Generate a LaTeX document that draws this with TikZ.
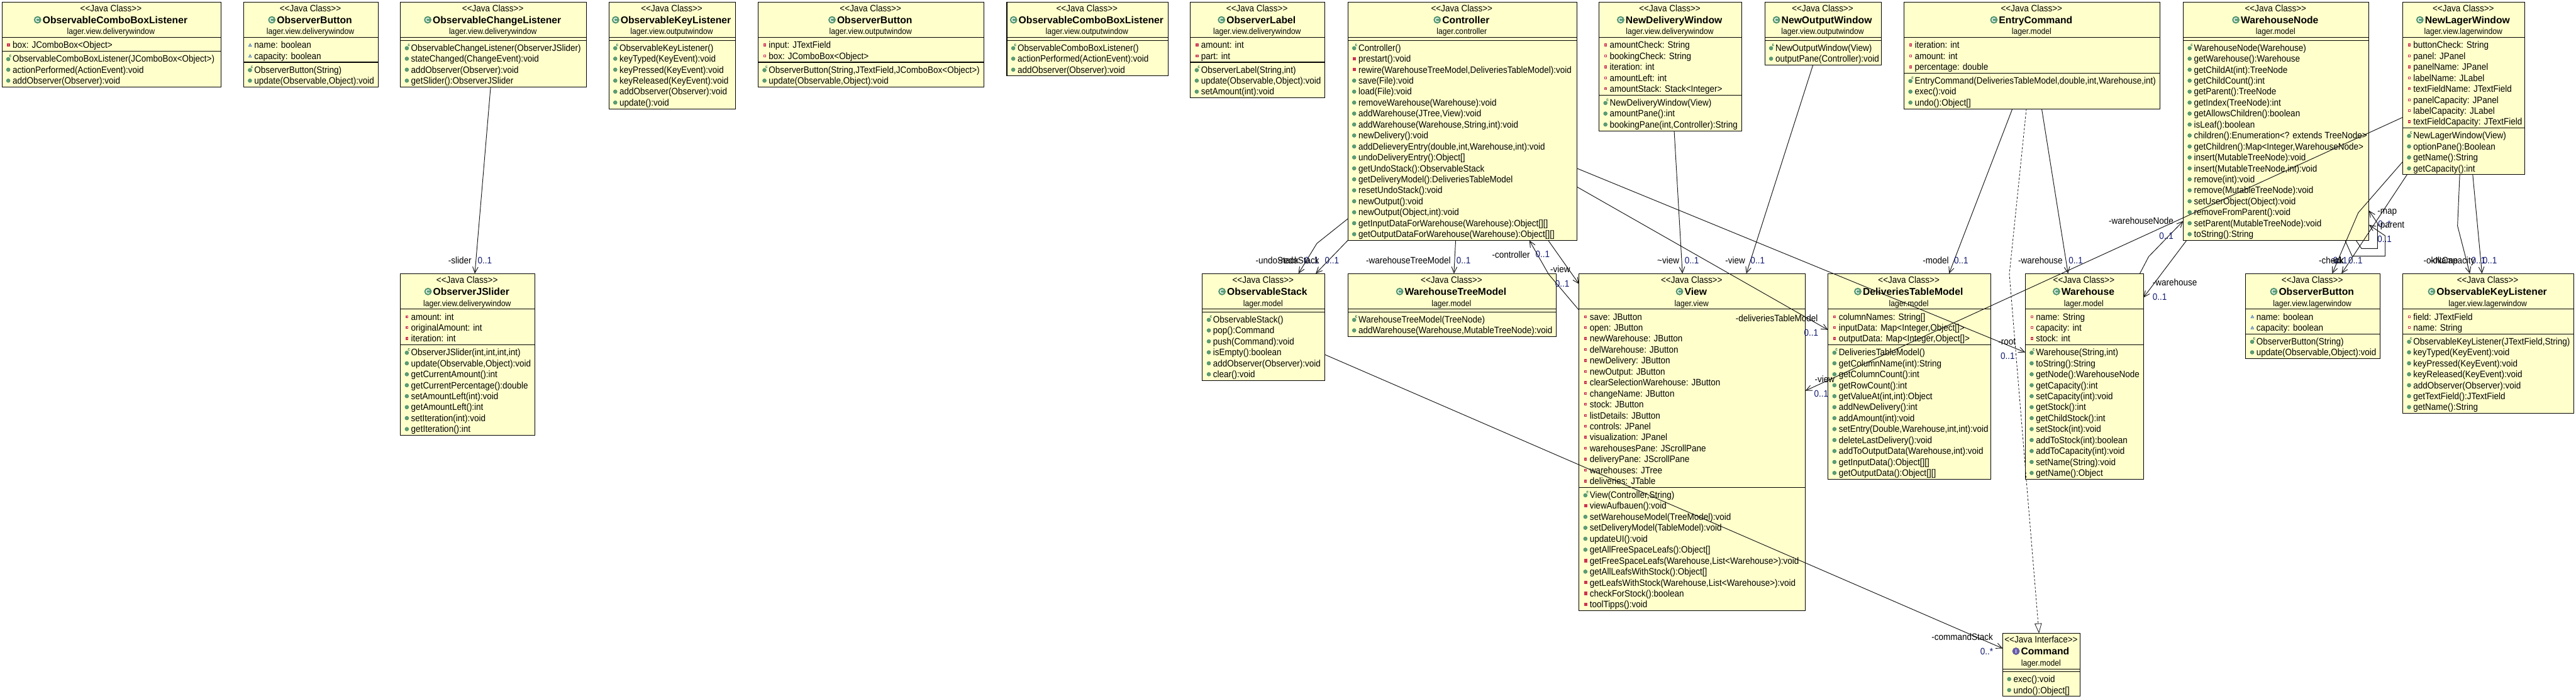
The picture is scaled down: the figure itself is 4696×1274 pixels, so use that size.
\documentclass[tikz,border=0pt]{standalone}
\usepackage{fontspec}
\usetikzlibrary{arrows.meta}
\setmainfont{Liberation Sans}
\newfontfamily\rowfam[FakeStretch=0.91]{Liberation Sans}
\newfontfamily\pkgfam[FakeStretch=0.90]{Liberation Sans}
\definecolor{umlfill}{HTML}{FFFFCC}
\definecolor{icogreen}{HTML}{5A9E78}
\definecolor{icoedge}{HTML}{3C7F58}
\definecolor{icored}{HTML}{CC3350}
\definecolor{icoblue}{HTML}{3F6FB0}
\definecolor{icopurple}{HTML}{6A5FB0}
\definecolor{multblue}{HTML}{101870}
\definecolor{linkgray}{HTML}{181818}
\tikzset{
  umlbox/.style={draw=black,fill=umlfill,line width=1.15pt,inner sep=0pt,outer sep=0pt,anchor=north west,rectangle},
  umlrule/.style={draw=black,line width=1.15pt},
  stereotxt/.style={inner sep=0pt,anchor=base,font=\rowfam\fontsize{17}{20}\selectfont},
  nametxt/.style={inner sep=0pt,anchor=base,font=\bfseries\fontsize{18}{20}\selectfont},
  pkgtxt/.style={inner sep=0pt,anchor=base,font=\pkgfam\fontsize{15.5}{20}\selectfont},
  rowtxt/.style={inner sep=0pt,anchor=base west,font=\rowfam\fontsize{17}{20}\selectfont},
  rolelab/.style={inner sep=0pt,anchor=base west,font=\rowfam\fontsize{17}{20}\selectfont,text=black},
  multlab/.style={inner sep=0pt,anchor=base west,font=\rowfam\fontsize{17}{20}\selectfont,text=multblue},
  assoc/.style={draw=linkgray,line width=1.1pt,-{Straight Barb[length=11pt,width=10pt]}},
  realize/.style={draw=linkgray,line width=0.9pt,dash pattern=on 4pt off 3pt,-{Triangle[open,fill=white,length=18pt,width=13pt]}},
}
\newcommand{\uicopr}[1]{\fill[icored] (9.6,#1-2.6) rectangle (14.6,#1+2.4);\fill[white] (11.2,#1-1) rectangle (13,#1+.8);}
\newcommand{\uicopm}[1]{\fill[icored] (9,#1-3.2) rectangle (15,#1+3);}
\newcommand{\uicopk}[1]{\filldraw[draw=icoblue,fill=icoblue!45,line width=.7pt] (9.2,#1+2.4) -- (14.6,#1+2.4) -- (11.9,#1-2.6) -- cycle;}
\newcommand{\uicopu}[1]{\filldraw[draw=icoedge,fill=icogreen,line width=.5pt] (11.6,#1) circle[radius=3.4pt];}
\newcommand{\uicoco}[1]{\filldraw[draw=icoedge,fill=icogreen,line width=.5pt] (11.6,#1+.8) circle[radius=3.4pt];
  \draw[icoedge,line width=.9pt] (17,#1-6.6) arc[start angle=40,end angle=320,radius=1.9pt];}
\newcount\umlna
\newcount\umlnm
\newcommand{\umlcount}[2]{\global#1=0 \def\umltmp{#2}\ifx\umltmp\empty\else\foreach \rk/\rtxt in {#2}{\global\advance#1 by 1 }\fi}
% #1 id, #2 left, #3 right, #4 top, #5 c/i, #6 name, #7 package, #8 attributes, #9 methods
\newcommand{\umlclass}[9]{%
  \umlcount\umlna{#8}\umlcount\umlnm{#9}%
  \pgfmathsetmacro{\umlw}{#3-#2}%
  \pgfmathsetmacro{\umlya}{65+\the\umlna*20+5}%
  \pgfmathsetmacro{\umlh}{\umlya+\the\umlnm*20+5}%
  \node[umlbox,minimum width=\umlw pt,minimum height=\umlh pt] (#1) at (#2,#4) {};
  \begin{scope}[shift={(#2,#4)}]
    \draw[umlrule] (0,65) -- (\umlw,65);
    \draw[umlrule] (0,\umlya) -- (\umlw,\umlya);
    \node[stereotxt] (#1-s) at (\umlw/2-1,17.4) {\if i#5<<Java Interface>>\else<<Java Class>>\fi};
    \node[nametxt] (#1-n) at (\umlw/2+6.5,39.4) {#6};
    \node[pkgtxt] (#1-p) at (\umlw/2-1,59.4) {#7};
    \coordinate (#1-ic) at ([xshift=-9pt,yshift=6.7pt]#1-n.base west);
    \if i#5
      \filldraw[draw=icopurple!70!black,fill=icopurple,line width=.5pt] (#1-ic) circle[radius=6.4pt];
      \draw[white,line width=1.5pt] ([yshift=3.4pt]#1-ic) -- ([yshift=-3.4pt]#1-ic);
    \else
      \filldraw[draw=icoedge,fill=icogreen,line width=.6pt] (#1-ic) circle[radius=6.4pt];
      \draw[white,line width=1.4pt] ([xshift=2.5pt,yshift=2.1pt]#1-ic) arc[start angle=40,end angle=320,radius=3.3pt];
    \fi
    \def\umltmp{#8}\ifx\umltmp\empty\else
    \foreach \rk/\rtxt [count=\ri] in {#8}{%
      \pgfmathsetmacro{\ry}{65+13.6+(\ri-1)*20}%
      \csname uico\rk\endcsname{\ry}%
      \node[rowtxt] (#1-a\ri) at (19.3,\ry+6) {\rtxt};
    }\fi
    \def\umltmp{#9}\ifx\umltmp\empty\else
    \foreach \rk/\rtxt [count=\ri] in {#9}{%
      \pgfmathsetmacro{\ry}{\umlya+13.6+(\ri-1)*20}%
      \csname uico\rk\endcsname{\ry}%
      \node[rowtxt] (#1-m\ri) at (19.3,\ry+6) {\rtxt};
    }\fi
  \end{scope}
}
\newcommand{\rolelabel}[4]{\node[rolelab] (#1) at (#2,#3+6) {#4};}
\newcommand{\multlabel}[4]{\node[multlab] (#1) at (#2,#3+6) {#4};}
\begin{document}
\begin{tikzpicture}[x=1pt,y=-1pt]
\path[use as bounding box,fill=white] (0,0) rectangle (4696,1274);

\umlclass{ocbl}{3.5}{403}{3.5}{c}{ObservableComboBoxListener}{lager.view.deliverywindow}
 {pr/{box: JComboBox<Object>}}
 {co/{ObservableComboBoxListener(JComboBox<Object>)},pu/{actionPerformed(ActionEvent):void},pu/{addObserver(Observer):void}}
\umlclass{obtn}{444}{689.6}{3.5}{c}{ObserverButton}{lager.view.deliverywindow}
 {pk/{name: boolean},pk/{capacity: boolean}}
 {co/{ObserverButton(String)},pu/{update(Observable,Object):void}}
\umlclass{ocl}{730}{1069}{3.5}{c}{ObservableChangeListener}{lager.view.deliverywindow}
 {}
 {co/{ObservableChangeListener(ObserverJSlider)},pu/{stateChanged(ChangeEvent):void},pu/{addObserver(Observer):void},pu/{getSlider():ObserverJSlider}}
\umlclass{okl}{1110}{1341}{3.5}{c}{ObservableKeyListener}{lager.view.outputwindow}
 {}
 {co/{ObservableKeyListener()},pu/{keyTyped(KeyEvent):void},pu/{keyPressed(KeyEvent):void},pu/{keyReleased(KeyEvent):void},pu/{addObserver(Observer):void},pu/{update():void}}
\umlclass{obo}{1382}{1794}{3.5}{c}{ObserverButton}{lager.view.outputwindow}
 {pr/{input: JTextField},pr/{box: JComboBox<Object>}}
 {co/{ObserverButton(String,JTextField,JComboBox<Object>)},pu/{update(Observable,Object):void}}
\umlclass{ocbo}{1835.5}{2129.5}{3.5}{c}{ObservableComboBoxListener}{lager.view.outputwindow}
 {}
 {co/{ObservableComboBoxListener()},pu/{actionPerformed(ActionEvent):void},pu/{addObserver(Observer):void}}
\umlclass{olab}{2170}{2415}{3.5}{c}{ObserverLabel}{lager.view.deliverywindow}
 {pr/{amount: int},pr/{part: int}}
 {co/{ObserverLabel(String,int)},pu/{update(Observable,Object):void},pu/{setAmount(int):void}}
\umlclass{ctrl}{2457}{2874.5}{3.5}{c}{Controller}{lager.controller}
 {}
 {co/{Controller()},pm/{prestart():void},pm/{rewire(WarehouseTreeModel,DeliveriesTableModel):void},pu/{save(File):void},pu/{load(File):void},pu/{removeWarehouse(Warehouse):void},pu/{addWarehouse(JTree,View):void},pu/{addWarehouse(Warehouse,String,int):void},pu/{newDelivery():void},pu/{addDelieveryEntry(double,int,Warehouse,int):void},pu/{undoDeliveryEntry():Object[]},pu/{getUndoStack():ObservableStack},pu/{getDeliveryModel():DeliveriesTableModel},pu/{resetUndoStack():void},pu/{newOutput():void},pu/{newOutput(Object,int):void},pu/{getInputDataForWarehouse(Warehouse):Object[][]},pu/{getOutputDataForWarehouse(Warehouse):Object[][]}}
\umlclass{ndw}{2915}{3175}{3.5}{c}{NewDeliveryWindow}{lager.view.deliverywindow}
 {pr/{amountCheck: String},pr/{bookingCheck: String},pr/{iteration: int},pr/{amountLeft: int},pr/{amountStack: Stack<Integer>}}
 {co/{NewDeliveryWindow(View)},pu/{amountPane():int},pu/{bookingPane(int,Controller):String}}
\umlclass{now}{3217}{3430}{3.5}{c}{NewOutputWindow}{lager.view.outputwindow}
 {}
 {co/{NewOutputWindow(View)},pu/{outputPane(Controller):void}}
\umlclass{ecmd}{3471}{3938}{3.5}{c}{EntryCommand}{lager.model}
 {pr/{iteration: int},pr/{amount: int},pr/{percentage: double}}
 {co/{EntryCommand(DeliveriesTableModel,double,int,Warehouse,int)},pu/{exec():void},pu/{undo():Object[]}}
\umlclass{wnode}{3980}{4318.5}{3.5}{c}{WarehouseNode}{lager.model}
 {}
 {co/{WarehouseNode(Warehouse)},pu/{getWarehouse():Warehouse},pu/{getChildAt(int):TreeNode},pu/{getChildCount():int},pu/{getParent():TreeNode},pu/{getIndex(TreeNode):int},pu/{getAllowsChildren():boolean},pu/{isLeaf():boolean},pu/{children():Enumeration<? extends TreeNode>},pu/{getChildren():Map<Integer,WarehouseNode>},pu/{insert(MutableTreeNode):void},pu/{insert(MutableTreeNode,int):void},pu/{remove(int):void},pu/{remove(MutableTreeNode):void},pu/{setUserObject(Object):void},pu/{removeFromParent():void},pu/{setParent(MutableTreeNode):void},pu/{toString():String}}
\umlclass{nlw}{4380}{4603}{3.5}{c}{NewLagerWindow}{lager.view.lagerwindow}
 {pr/{buttonCheck: String},pr/{panel: JPanel},pr/{panelName: JPanel},pr/{labelName: JLabel},pr/{textFieldName: JTextField},pr/{panelCapacity: JPanel},pr/{labelCapacity: JLabel},pr/{textFieldCapacity: JTextField}}
 {co/{NewLagerWindow(View)},pu/{optionPane():Boolean},pu/{getName():String},pu/{getCapacity():int}}

\umlclass{slider}{730}{975}{499}{c}{ObserverJSlider}{lager.view.deliverywindow}
 {pr/{amount: int},pr/{originalAmount: int},pr/{iteration: int}}
 {co/{ObserverJSlider(int,int,int,int)},pu/{update(Observable,Object):void},pu/{getCurrentAmount():int},pu/{getCurrentPercentage():double},pu/{setAmountLeft(int):void},pu/{getAmountLeft():int},pu/{setIteration(int):void},pu/{getIteration():int}}
\umlclass{stack}{2192}{2415}{499}{c}{ObservableStack}{lager.model}
 {}
 {co/{ObservableStack()},pu/{pop():Command},pu/{push(Command):void},pu/{isEmpty():boolean},pu/{addObserver(Observer):void},pu/{clear():void}}
\umlclass{wtm}{2457}{2837}{499}{c}{WarehouseTreeModel}{lager.model}
 {}
 {co/{WarehouseTreeModel(TreeNode)},pu/{addWarehouse(Warehouse,MutableTreeNode):void}}
\umlclass{view}{2878.5}{3291}{499}{c}{View}{lager.view}
 {pr/{save: JButton},pr/{open: JButton},pr/{newWarehouse: JButton},pr/{delWarehouse: JButton},pr/{newDelivery: JButton},pr/{newOutput: JButton},pr/{clearSelectionWarehouse: JButton},pr/{changeName: JButton},pr/{stock: JButton},pr/{listDetails: JButton},pr/{controls: JPanel},pr/{visualization: JPanel},pr/{warehousesPane: JScrollPane},pr/{deliveryPane: JScrollPane},pr/{warehouses: JTree},pr/{deliveries: JTable}}
 {co/{View(Controller,String)},pm/{viewAufbauen():void},pu/{setWarehouseModel(TreeModel):void},pu/{setDeliveryModel(TableModel):void},pu/{updateUI():void},pu/{getAllFreeSpaceLeafs():Object[]},pm/{getFreeSpaceLeafs(Warehouse,List<Warehouse>):void},pu/{getAllLeafsWithStock():Object[]},pm/{getLeafsWithStock(Warehouse,List<Warehouse>):void},pm/{checkForStock():boolean},pm/{toolTipps():void}}
\umlclass{dtm}{3332.5}{3629}{499}{c}{DeliveriesTableModel}{lager.model}
 {pr/{columnNames: String[]},pr/{inputData: Map<Integer,Object[]>},pr/{outputData: Map<Integer,Object[]>}}
 {co/{DeliveriesTableModel()},pu/{getColumnName(int):String},pu/{getColumnCount():int},pu/{getRowCount():int},pu/{getValueAt(int,int):Object},pu/{addNewDelivery():int},pu/{addAmount(int):void},pu/{setEntry(Double,Warehouse,int,int):void},pu/{deleteLastDelivery():void},pu/{addToOutputData(Warehouse,int):void},pu/{getInputData():Object[][]},pu/{getOutputData():Object[][]}}
\umlclass{wh}{3692}{3907.5}{499}{c}{Warehouse}{lager.model}
 {pr/{name: String},pr/{capacity: int},pr/{stock: int}}
 {co/{Warehouse(String,int)},pu/{toString():String},pu/{getNode():WarehouseNode},pu/{getCapacity():int},pu/{setCapacity(int):void},pu/{getStock():int},pu/{getChildStock():int},pu/{setStock(int):void},pu/{addToStock(int):boolean},pu/{addToCapacity(int):void},pu/{setName(String):void},pu/{getName():Object}}
\umlclass{oblag}{4094}{4338.5}{499}{c}{ObserverButton}{lager.view.lagerwindow}
 {pk/{name: boolean},pk/{capacity: boolean}}
 {co/{ObserverButton(String)},pu/{update(Observable,Object):void}}
\umlclass{kllag}{4380}{4692}{499}{c}{ObservableKeyListener}{lager.view.lagerwindow}
 {pr/{field: JTextField},pr/{name: String}}
 {co/{ObservableKeyListener(JTextField,String)},pu/{keyTyped(KeyEvent):void},pu/{keyPressed(KeyEvent):void},pu/{keyReleased(KeyEvent):void},pu/{addObserver(Observer):void},pu/{getTextField():JTextField},pu/{getName():String}}
\umlclass{cmd}{3651}{3792.5}{1155}{i}{Command}{lager.model}
 {}
 {pu/{exec():void},pu/{undo():Object[]}}

% connectors
\draw[assoc] ([xshift=164.4pt]ocl.south west) -- ([xshift=135.6pt]slider.north west);
\draw[assoc] ([yshift=-395.5pt]ctrl.north west) -- (2400.6,444) -- ([xshift=175pt]stack.north west);
\draw[assoc] (ctrl.south west) -- ([xshift=206.5pt]stack.north west);
\draw[assoc] ([xshift=196.6pt]ctrl.south west) -- ([xshift=193.5pt]wtm.north west);
\draw[assoc] ([yshift=-66.7pt]view.north west) -- (2823,500) -- ([xshift=331pt]ctrl.south west);
\draw[assoc] ([xshift=365.4pt]ctrl.south west) -- ([yshift=-19pt]view.north west);
\draw[assoc] ([yshift=-337.2pt]ctrl.north east) -- ([yshift=-102.7pt]dtm.north west);
\draw[assoc] ([yshift=-303.5pt]ctrl.north east) -- ([yshift=-143.7pt]wh.north west);
\draw[assoc] ([xshift=137pt]ndw.south west) -- ([xshift=188.5pt]view.north west);
\draw[assoc] ([xshift=88pt]now.south west) -- ([xshift=305pt]view.north west);
\draw[assoc] ([xshift=197.5pt]ecmd.south west) -- ([xshift=220.5pt]dtm.north west);
\draw[assoc] ([xshift=251pt]ecmd.south west) -- ([xshift=78pt]wh.north west);
\draw[realize] ([xshift=223pt]ecmd.south west) -- (3663,500) -- ([xshift=66pt]cmd.north west);
\draw[assoc] ([yshift=-147.7pt]stack.north east) -- ([yshift=-27.7pt]cmd.north west);
\draw[assoc] ([xshift=208.8pt]wh.north west) -- (3917,468) -- ([yshift=-399.5pt]wnode.north west);
\draw[assoc] ([xshift=6pt]wnode.south west) -- ([yshift=-43.7pt]wh.north east);
\draw[assoc] ([yshift=-210.5pt]nlw.north west) -- ([yshift=-213.7pt]view.north east);
\draw[assoc] ([xshift=315pt]wnode.south west) -- (4305,453.3) -- (4334,453.3) -- (4334,407) -- ([yshift=-380.5pt]wnode.north east);
\draw[assoc] ([xshift=295pt]wnode.south west) -- (4287.7,467) -- (4348,467) -- (4348,430) -- ([yshift=-406.5pt]wnode.north east);
\draw[assoc] ([yshift=-291.5pt]nlw.north west) -- (4299,388) -- ([xshift=157.5pt]oblag.north west);
\draw[assoc] ([xshift=8pt]nlw.south west) -- ([xshift=174.6pt]oblag.north west);
\draw[assoc] ([xshift=104pt]nlw.south west) -- (4480,412) -- ([xshift=122.4pt]kllag.north west);
\draw[assoc] ([xshift=127.7pt]nlw.south west) -- ([xshift=144.6pt]kllag.north west);

% labels
\rolelabel{l1}{817}{475}{-slider}\multlabel{m1}{870.7}{475}{0..1}
\rolelabel{l2}{2289}{475}{-undoStack}\multlabel{m2}{2378}{475}{0..1}
\rolelabel{l3}{2330}{475}{-redoStack}\multlabel{m3}{2415}{475}{0..1}
\rolelabel{l4}{2490}{475}{-warehouseTreeModel}\multlabel{m4}{2655}{475}{0..1}
\rolelabel{l5}{2720}{465}{-controller}\multlabel{m5}{2799}{463}{0..1}
\rolelabel{l6}{2826}{490.7}{-view}\multlabel{m6}{2835}{517}{0..1}
\rolelabel{l7}{3164}{580.7}{-deliveriesTableModel}\multlabel{m7}{3288.6}{607}{0..1}
\rolelabel{l8}{3642.6}{622.7}{-root}\multlabel{m8}{3647}{649}{0..1}
\rolelabel{l9}{3021}{475}{\char"007E view}\multlabel{m9}{3071}{475}{0..1}
\rolelabel{l10}{3145}{475}{-view}\multlabel{m10}{3191}{475}{0..1}
\rolelabel{l11}{3505}{475}{-model}\multlabel{m11}{3562}{475}{0..1}
\rolelabel{l12}{3679}{475}{-warehouse}\multlabel{m12}{3771}{475}{0..1}
\rolelabel{l13}{3521}{1162}{-commandStack}\multlabel{m13}{3610}{1188}{0..*}
\rolelabel{l14}{3844}{402.7}{-warehouseNode}\multlabel{m14}{3936}{430}{0..1}
\rolelabel{l15}{3924}{515}{-warehouse}\multlabel{m15}{3924}{541.7}{0..1}
\rolelabel{l16}{3308}{691.7}{-view}\multlabel{m16}{3307}{718}{0..1}
\rolelabel{l17}{4334}{384}{-map}\multlabel{m17}{4335}{408}{0..*}
\rolelabel{l18}{4334}{410}{-parent}\multlabel{m18}{4334}{436}{0..1}
\rolelabel{l19}{4227}{475}{-check}\multlabel{m19}{4253}{475}{0..1}
\rolelabel{l20}{4250}{475}{-ok}\multlabel{m20}{4281}{475}{0..1}
\rolelabel{l21}{4418}{475}{-okName}\multlabel{m21}{4505}{475}{0..1}
\rolelabel{l22}{4430}{475}{-okCapacity}\multlabel{m22}{4526}{475}{0..1}
\end{tikzpicture}
\end{document}
